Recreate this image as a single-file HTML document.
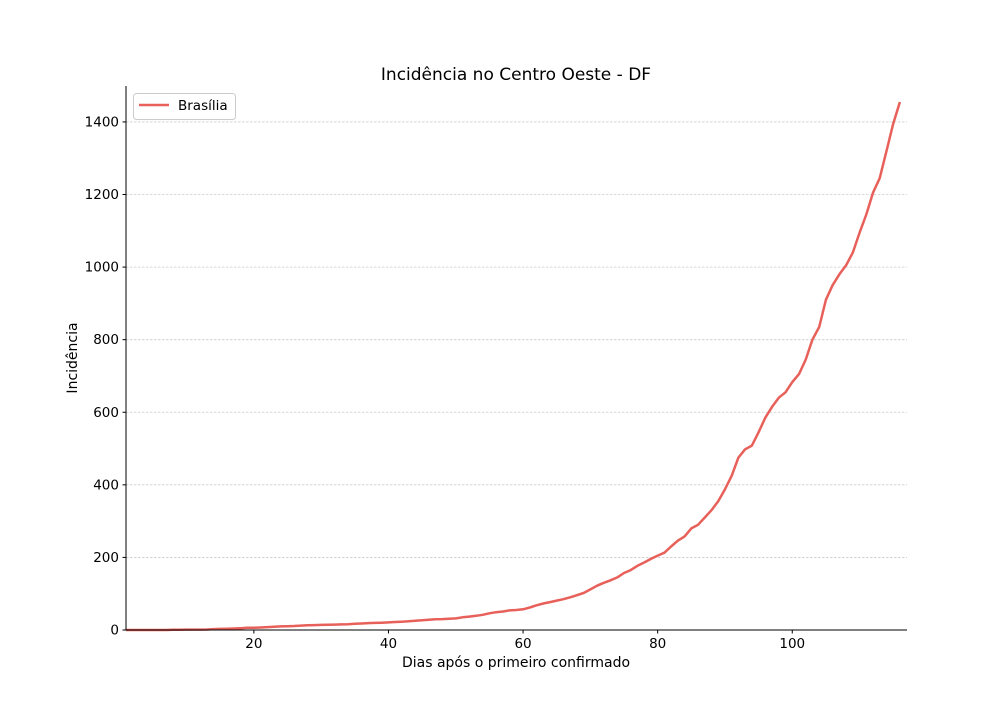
<!DOCTYPE html>
<html><head><meta charset="utf-8"><style>
body{margin:0;background:#fff;font-family:"Liberation Sans","DejaVu Sans",sans-serif;}
</style></head><body>
<svg id="chart" width="1008" height="720" style="font-family:'DejaVu Sans','Liberation Sans',sans-serif">
<text x="516" y="80" text-anchor="middle" font-size="17">Incidência no Centro Oeste - DF</text>
<text x="516" y="667" text-anchor="middle" font-size="14">Dias após o primeiro confirmado</text>
<text transform="translate(77,358) rotate(-90)" text-anchor="middle" font-size="14">Incidência</text>
<g id="grid"></g><g id="xt"></g><g id="yt"></g><g id="plot"></g>
<line x1="126" y1="86" x2="126" y2="630" stroke="#000" stroke-width="1"/>
<line x1="126" y1="630" x2="907" y2="630" stroke="#000" stroke-width="1"/>
<g>
<rect x="133.5" y="93.5" width="102" height="26" rx="3" fill="#fff" stroke="#ccc"/>
<line x1="139" y1="105" x2="169" y2="105" stroke="#e8605a" stroke-width="2.4"/>
<text x="178" y="110" font-size="13.5">Brasília</text>
</g>
</svg>
<script>
const days = Array.from({length:116},(_, i)=>i+1);
const brasilia = [0,0,0,0,0,0,0,0.5,0.5,1,
1,1,1.5,2.5,3,3.5,4,5,6,6,
7,8,9,10,10.5,11,12,13,13.5,14,
14.5,15,15.5,16,17,18,19,19.5,20,21,
22,23,24,25.5,27,28,29.5,30,31,32,
35,37,39,42,46,49,51,54,55,57,
62,68,73,77,81,85,90,96,102,112,
122,130,137,145,157,165,177,186,196,205,
213,230,246,258,280,290,310,330,355,388,
425,475,498,508,545,585,615,640,655,683,
705,745,800,835,910,950,980,1005,1040,1095,
1145,1205,1245,1320,1395,1455];
const xTicks = [20,40,60,80,100];
const yTicks = [0,200,400,600,800,1000,1200,1400];
const NS="http://www.w3.org/2000/svg";
const X0=126,X1=907,Y0=630,Y1=86,xmin=1,xmax=117.05,ymin=0,ymax=1499;
const sx=v=>X0+(v-xmin)/(xmax-xmin)*(X1-X0);
const sy=v=>Y0-(v-ymin)/(ymax-ymin)*(Y0-Y1);
function mk(t,a,p){const e=document.createElementNS(NS,t);for(const k in a)e.setAttribute(k,a[k]);p.appendChild(e);return e;}
const grid=document.getElementById('grid'),xt=document.getElementById('xt'),yt=document.getElementById('yt'),plot=document.getElementById('plot');
yTicks.forEach(v=>{
  const y=sy(v);
  const g=mk('line',{x1:X0,x2:X1,y1:y,y2:y,stroke:'#ccc','stroke-width':0.8,'stroke-dasharray':'2.5,1.5'},grid);
  
  
  const t=mk('line',{x1:X0-3.5,x2:X0,y1:y,y2:y,stroke:'#000'},yt);
  
  
  const l=mk('text',{x:X0-7,y:y+4.5,'text-anchor':'end','font-size':13.5},yt);
  l.textContent=v;
  
  
});
xTicks.forEach(v=>{
  const x=sx(v);
  const t=mk('line',{x1:x,x2:x,y1:Y0,y2:Y0+3.5,stroke:'#000'},xt);
  
  
  const l=mk('text',{x:x,y:Y0+18,'text-anchor':'middle','font-size':13.5},xt);
  l.textContent=v;
  
  
});
const pts=days.map((d,i)=>sx(d).toFixed(1)+','+sy(brasilia[i]).toFixed(1)).join(' ');
const line=mk('polyline',{points:pts,fill:'none',stroke:'#e8605a','stroke-width':2.5,'stroke-linejoin':'round'},plot);


</script>
</body></html>
